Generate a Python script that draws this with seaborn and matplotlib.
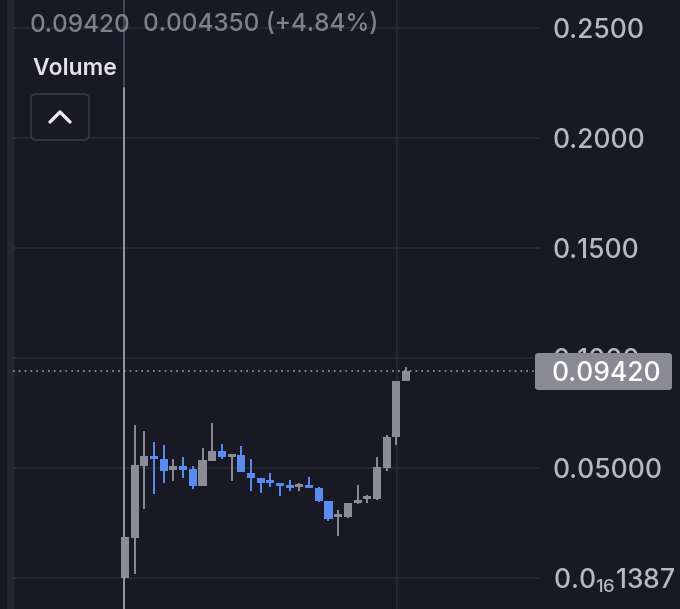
import numpy as np
import pandas as pd
import seaborn as sns
import matplotlib
matplotlib.use("Agg")
import matplotlib.pyplot as plt
import matplotlib.transforms as mtransforms
from matplotlib.patches import FancyBboxPatch
from matplotlib.lines import Line2D

# ---- data ----
opens = [0.0000, 0.0182, 0.0509, 0.0555, 0.0541, 0.0491, 0.0509, 0.0495, 0.0418, 0.0532,
         0.0577, 0.0550, 0.0559, 0.0477, 0.0455, 0.0436, 0.0432, 0.0418, 0.0414, 0.0418,
         0.0409, 0.0350, 0.0277, 0.0277, 0.0341, 0.0359, 0.0359, 0.0500, 0.0641, 0.0895]
closes = [0.0186, 0.0514, 0.0555, 0.0541, 0.0486, 0.0509, 0.0491, 0.0418, 0.0536, 0.0577,
          0.0550, 0.0564, 0.0482, 0.0455, 0.0432, 0.0432, 0.0418, 0.0409, 0.0423, 0.0409,
          0.0350, 0.0268, 0.0282, 0.0341, 0.0345, 0.0364, 0.0505, 0.0641, 0.0895, 0.0942]
highs = [0.0186, 0.0695, 0.0668, 0.0618, 0.0605, 0.0541, 0.0550, 0.0509, 0.0591, 0.0705,
         0.0609, 0.0564, 0.0600, 0.0541, 0.0455, 0.0477, 0.0432, 0.0445, 0.0432, 0.0459,
         0.0414, 0.0350, 0.0309, 0.0341, 0.0423, 0.0377, 0.0550, 0.0650, 0.0895, 0.0959]
lows = [0.0000, 0.0018, 0.0314, 0.0382, 0.0432, 0.0441, 0.0455, 0.0405, 0.0418, 0.0532,
        0.0541, 0.0441, 0.0482, 0.0395, 0.0386, 0.0414, 0.0373, 0.0395, 0.0395, 0.0409,
        0.0345, 0.0259, 0.0191, 0.0273, 0.0336, 0.0341, 0.0355, 0.0486, 0.0605, 0.0895]
tick_values = [0.25, 0.20, 0.15, 0.10, 0.05]
tick_labels = ["0.2500", "0.2000", "0.1500", "0.1000", "0.05000"]
last_price = 0.0942
last_label = "0.09420"
header_price = "0.09420"
header_change = "0.004350 (+4.84%)"
bottom_label = r"0.0$_{\mathregular{16}}$1387"

df = pd.DataFrame({"open": opens, "close": closes, "high": highs, "low": lows})
df["idx"] = np.arange(len(df))

BG = "#191926"
GRID = "#2a2a38"
UP = "#8c8c97"
DOWN = "#5a8cf0"
LABEL = "#b8b8c2"

sns.set_theme(style="dark", rc={"axes.facecolor": BG, "figure.facecolor": BG})
plt.rcParams["font.family"] = ["Inter", "DejaVu Sans"]
plt.rcParams["mathtext.fontset"] = "custom"
plt.rcParams["mathtext.rm"] = "Inter"

W, H = 680, 609
fig = plt.figure(figsize=(W / 100, H / 100), dpi=100)
ax = fig.add_axes([0, 0, 1, 1])
ax.set_facecolor(BG)

# pixel mapping: candle i at x = 125 + 9.69 i ; value v at y = 578 - 2200 v
sp = 9.69
x0 = 125
ax.set_xlim(-x0 / sp, (W - x0) / sp)
ax.set_ylim((578 - H) / 2200, 578 / 2200)
for s in ax.spines.values():
    s.set_visible(False)
ax.set_xticks([])
ax.set_yticks([])
ax.grid(False)

def xd(px):
    return (px - x0) / sp

# left stripe
ax.axvspan(xd(7), xd(13), color="#262633", zorder=0)

# horizontal gridlines
for v in tick_values + [0.0]:
    ax.plot([xd(13), xd(540)], [v, v], color=GRID, lw=1.2, zorder=1)

# vertical lines
ax.axvline(xd(397), color=GRID, lw=1.2, zorder=1)
ax.plot([xd(124), xd(124)], [(578 - 0) / 2200, (578 - 88) / 2200], color="#4a4a58", lw=1.3, zorder=1)
ax.plot([xd(124), xd(124)], [(578 - 88) / 2200, (578 - 609) / 2200], color="#a0a0aa", lw=1.3, zorder=2)

# candles
colors = [UP if c >= o else DOWN for o, c in zip(df["open"], df["close"])]
ax.vlines(df["idx"], df["low"], df["high"], colors=colors, lw=1.4, zorder=3)
bottoms = np.minimum(df["open"], df["close"])
heights = np.maximum(np.abs(df["close"] - df["open"]), 0.0012)
ax.bar(df["idx"], heights, bottom=bottoms, width=0.83, color=colors, zorder=4, linewidth=0)

# last price dotted line
ax.plot([xd(13), xd(535)], [last_price, last_price], color="#9a9aa6", lw=1.2,
        linestyle=(0, (1, 2.5)), zorder=2)

# right axis labels (shifted down ~3px so caps are centred on gridlines)
ytr = mtransforms.offset_copy(ax.get_yaxis_transform(), fig=fig, x=0, y=-3, units="dots")
for v, lab in zip(tick_values, tick_labels):
    ax.text(553 / W, v, lab, transform=ytr, color=LABEL,
            fontsize=19, fontweight="medium", va="center", ha="left", zorder=5)
ax.text(553 / W, 0.0, bottom_label, transform=ytr, color=LABEL,
        fontsize=19, fontweight="medium", va="center", ha="left", zorder=5)

# price tag
def fx(px):
    return px / W
def fy(py):
    return 1 - py / H

tag = FancyBboxPatch((fx(535), fy(390)), fx(672) - fx(535), fy(353) - fy(390),
                     boxstyle="round,pad=0,rounding_size=0.005", transform=fig.transFigure,
                     facecolor="#8a8a95", edgecolor="none", zorder=6)
ax.add_artist(tag)
ax.text(fx(606), last_price, last_label, transform=ytr, color="white",
        fontsize=19, fontweight="medium", va="center", ha="center", zorder=7)

# header texts
ftr = mtransforms.offset_copy(fig.transFigure, fig=fig, x=0, y=-3, units="dots")
fig.text(fx(30), fy(22), header_price, color="#80808a", fontsize=17.5, fontweight="medium",
         va="center", ha="left", transform=ftr)
fig.text(fx(143), fy(22), header_change, color="#80808a", fontsize=17.5, fontweight="medium",
         va="center", ha="left", transform=ftr)
fig.text(fx(32), fy(66), "Volume", color="#e2e2e8", fontsize=16.5, fontweight="semibold",
         va="center", ha="left", transform=ftr)

# collapse button
btn = FancyBboxPatch((fx(31), fy(140)), fx(89) - fx(31), fy(94) - fy(140),
                     boxstyle="round,pad=0,rounding_size=0.008", transform=fig.transFigure,
                     facecolor="#1a1a27", edgecolor="#3a3a47", linewidth=1.2, zorder=6)
fig.add_artist(btn)
fig.add_artist(Line2D([fx(50), fx(60), fx(70)], [fy(122), fy(112), fy(122)],
                      transform=fig.transFigure, color="#ececf0", lw=2.4,
                      solid_capstyle="round", solid_joinstyle="round", zorder=7))

fig.savefig("out.png", dpi=100, facecolor=BG)
